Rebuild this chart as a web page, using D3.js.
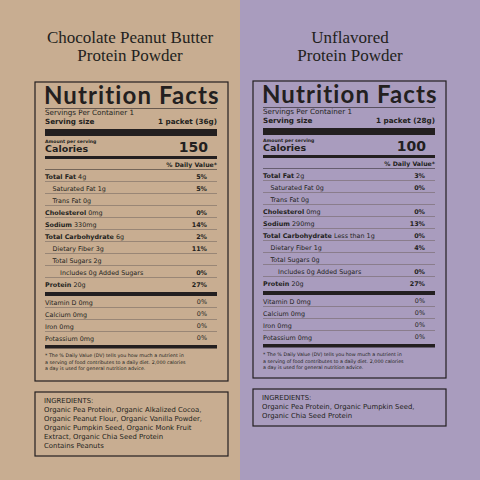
<!DOCTYPE html>
<html>
<head>
<meta charset="utf-8">
<script src="https://cdn.jsdelivr.net/npm/d3@7"></script>
<style>
  body { margin: 0; }
  text { font-family: "DejaVu Sans", sans-serif; fill: #231f20; }
</style>
</head>
<body>
<div id="app"></div>
<script>
'use strict'

const titles = [['Chocolate Peanut Butter', 'Protein Powder'], ['Unflavored', 'Protein Powder']];
const bgColors = ['#c8ad91', '#a99cbe'];
const servingSizes = ['1 packet (36g)', '1 packet (28g)'];
const calories = [150, 100];

const nutrientNames = ['Total Fat', 'Saturated Fat', 'Trans Fat', 'Cholesterol', 'Sodium',
  'Total Carbohydrate', 'Dietary Fiber', 'Total Sugars', 'Includes 0g Added Sugars', 'Protein'];
const nutrientIndent = [0, 1, 1, 0, 0, 0, 1, 1, 2, 0];
const leftAmounts = ['4g', '1g', '0g', '0mg', '330mg', '6g', '3g', '2g', '', '20g'];
const leftPct = ['5%', '5%', '', '0%', '14%', '2%', '11%', '', '0%', '27%'];
const rightAmounts = ['2g', '0g', '0g', '0mg', '290mg', 'Less than 1g', '1g', '0g', '', '20g'];
const rightPct = ['3%', '0%', '', '0%', '13%', '0%', '4%', '', '0%', '27%'];

const vitaminNames = ['Vitamin D', 'Calcium', 'Iron', 'Potassium'];
const vitaminAmounts = ['0mg', '0mg', '0mg', '0mg'];
const vitaminPct = ['0%', '0%', '0%', '0%'];

const footnote = ['* The % Daily Value (DV) tells you how much a nutrient in',
  'a serving of food contributes to a daily diet. 2,000 calories',
  'a day is used for general nutrition advice.'];
const leftIngredients = ['INGREDIENTS:', 'Organic Pea Protein, Organic Alkalized Cocoa,',
  'Organic Peanut Flour, Organic Vanilla Powder,', 'Organic Pumpkin Seed, Organic Monk Fruit',
  'Extract, Organic Chia Seed Protein', 'Contains Peanuts'];
const rightIngredients = ['INGREDIENTS:', 'Organic Pea Protein, Organic Pumpkin Seed,',
  'Organic Chia Seed Protein'];

const panels = [
  {x: 0, top: 82, amounts: leftAmounts, pct: leftPct, ingr: leftIngredients},
  {x: 240, top: 81, amounts: rightAmounts, pct: rightPct, ingr: rightIngredients},
];

const svg = d3.select('#app').append('svg')
  .attr('width', 480).attr('height', 480).attr('viewBox', '0 0 480 480');

const ink = '#231f20';

panels.forEach((p, k) => {
  let g = svg.append('g').attr('transform', `translate(${p.x},0)`);
  g.append('rect').attr('width', 240).attr('height', 480).attr('fill', bgColors[k]);

  // box geometry in panel coords
  let bx = k ? 13 : 35, bw = 193;
  let L = bx + 10;
  let R = bx + bw - 11;
  let P = R - 10;
  let top = p.top;

  g.selectAll('text.title').data(titles[k]).enter().append('text')
    .attr('x', k ? 110 : 130).attr('y', (d, i) => 43 + i * 18)
    .attr('text-anchor', 'middle')
    .style('font-family', '"Liberation Serif", "DejaVu Serif", serif')
    .style('font-size', '17px').text(d => d);

  g.append('rect').attr('x', bx).attr('y', top).attr('width', bw).attr('height', 299 - (k ? 2 : 0))
    .attr('fill', 'none').attr('stroke', ink).attr('stroke-width', 1.2);

  let t = (x, y, s, size, weight, anchor) => g.append('text').attr('x', x).attr('y', y)
    .attr('text-anchor', anchor || 'start').style('font-size', size + 'px')
    .style('font-weight', weight || 400).text(s);
  let bar = (y, h) => g.append('rect').attr('x', L).attr('y', y).attr('width', R - L).attr('height', h).attr('fill', ink);

  t(L - 1, top + 22, 'Nutrition Facts', 24, 700)
    .style('font-family', 'Lato, sans-serif').style('letter-spacing', '1.1px');
  bar(top + 26, 0.6);
  t(L, top + 33, 'Servings Per Container 1', 7.2);
  t(L, top + 42, 'Serving size', 7.2, 700);
  t(R, top + 42, servingSizes[k], 7.2, 700, 'end');
  bar(top + 47, 7);
  t(L, top + 61, 'Amount per serving', 4.6, 700);
  t(L, top + 70, 'Calories', 9.5, 700);
  t(R - 9, top + 70, calories[k], 14, 700, 'end');
  bar(top + 74, 3);
  t(R, top + 85, '% Daily Value*', 6.2, 700, 'end');
  bar(top + 87.5, 0.5);

  // nutrient rows
  let y = d3.scaleBand().domain(nutrientNames).range([top + 88, top + 88 + 12 * nutrientNames.length]);
  let rows = g.selectAll('g.row').data(nutrientNames).enter().append('g')
    .attr('transform', d => `translate(0,${y(d)})`);
  rows.filter((d, i) => i < nutrientNames.length - 1).append('rect').attr('x', L).attr('y', y.bandwidth() - 0.5)
    .attr('width', R - L).attr('height', 0.5).attr('fill', '#6b5f5a');
  let lab = rows.append('text').attr('x', (d, i) => L + nutrientIndent[i] * 7.5).attr('y', 8.5)
    .style('font-size', '6.4px');
  lab.append('tspan').style('font-weight', (d, i) => nutrientIndent[i] === 0 ? 700 : 400).text(d => d);
  lab.append('tspan').text((d, i) => p.amounts[i] ? ' ' + p.amounts[i] : '');
  rows.append('text').attr('x', P).attr('y', 8.5).attr('text-anchor', 'end')
    .style('font-size', '6.4px').style('font-weight', 700).text((d, i) => p.pct[i]);

  let yEnd = top + 88 + 12 * nutrientNames.length;
  bar(yEnd + 2, 4);
  let yv = d3.scaleBand().domain(vitaminNames).range([yEnd + 6, yEnd + 6 + 12 * vitaminNames.length]);
  let vrows = g.selectAll('g.vrow').data(vitaminNames).enter().append('g')
    .attr('transform', d => `translate(0,${yv(d)})`);
  vrows.filter((d, i) => i < vitaminNames.length - 1).append('rect').attr('x', L).attr('y', yv.bandwidth() - 0.5)
    .attr('width', R - L).attr('height', 0.5).attr('fill', '#6b5f5a');
  vrows.append('text').attr('x', L).attr('y', 8.5).style('font-size', '6.4px')
    .text((d, i) => d + ' ' + vitaminAmounts[i]);
  vrows.append('text').attr('x', P).attr('y', 8).attr('text-anchor', 'end').style('font-size', '6.4px')
    .text((d, i) => vitaminPct[i]);
  let yv2 = yEnd + 6 + 12 * vitaminNames.length;
  bar(yv2 + 1, 3.5);
  g.selectAll('text.fn').data(footnote).enter().append('text')
    .attr('x', L).attr('y', (d, i) => yv2 + 13 + i * 6.5).style('font-size', '4.8px').text(d => d);

  // ingredients
  let iy = top + 310 - (k ? 2 : 0);
  g.append('rect').attr('x', bx).attr('y', iy).attr('width', bw).attr('height', p.ingr.length * 9 + 10)
    .attr('fill', 'none').attr('stroke', ink).attr('stroke-width', 1.2);
  g.selectAll('text.ing').data(p.ingr).enter().append('text')
    .attr('x', bx + 9).attr('y', (d, i) => iy + 11 + i * 9).style('font-size', '6.9px').text(d => d);
});
</script>
</body>
</html>
